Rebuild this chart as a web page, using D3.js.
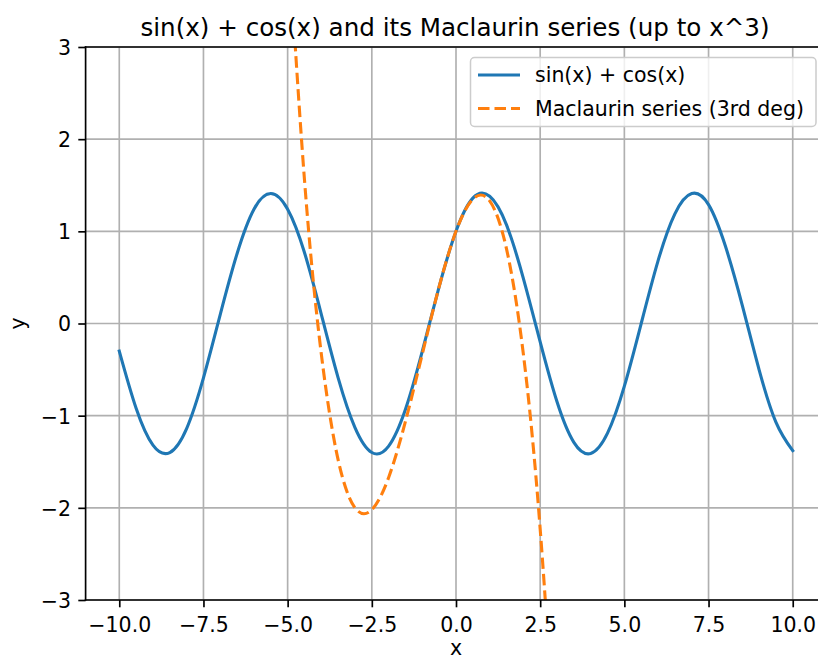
<!DOCTYPE html>
<html>
<head>
<meta charset="utf-8">
<script src="https://cdn.jsdelivr.net/npm/d3@7"></script>
<style>
  body { margin: 0; background: #fff; }
  svg text { font-family: "DejaVu Sans", sans-serif; fill: #000; }
</style>
</head>
<body>
<svg id="chart" width="818" height="660"></svg>
<script>
// values
var sumX = [-10, -9.5, -9, -8.5, -8, -7.5, -7, -6.5, -6, -5.5, -5, -4.5, -4, -3.5, -3, -2.5, -2, -1.5, -1, -0.5,
  0, 0.5, 1, 1.5, 2, 2.5, 3, 3.5, 4, 4.5, 5, 5.5, 6, 6.5, 7, 7.5, 8, 8.5, 9, 9.5, 10]
var sumY = [-0.30, -0.92, -1.32, -1.40, -1.14, -0.59, 0.10, 0.76, 1.24, 1.41, 1.24, 0.77, 0.10, -0.59, -1.13, -1.40, -1.33, -0.93, -0.30, 0.40,
  1.00, 1.36, 1.38, 1.07, 0.49, -0.20, -0.85, -1.29, -1.41, -1.19, -0.68, 0.00, 0.68, 1.19, 1.41, 1.29, 0.84, 0.20, -0.50, -1.07, -1.38]

var seriesX = [-5, -4.5, -4, -3.5, -3, -2.5, -2, -1.5, -1, -0.5, 0, 0.5, 1, 1.5, 2, 2.5, 3]
var seriesY = [4.33, 1.56, -0.33, -1.48, -2.00, -2.02, -1.67, -1.06, -0.33, 0.40, 1.00, 1.35, 1.33, 0.81, -0.33, -2.23, -5.00]

var xTicks = [-10, -7.5, -5, -2.5, 0, 2.5, 5, 7.5, 10]
var yTicks = [-3, -2, -1, 0, 1, 2, 3]
var legendLabels = ["sin(x) + cos(x)", "Maclaurin series (3rd deg)"]
var colors = ["#1f77b4", "#ff7f0e"]

var svg = d3.select("#chart")
var plotLeft = 85.6, plotRight = 826.4, plotTop = 47, plotBottom = 600

var x = d3.scaleLinear().domain([-11, 11]).range([plotLeft, plotRight])
var y = d3.scaleLinear().domain([-3, 3]).range([plotBottom, plotTop])

function fmt(v, digits) {
  return d3.format("." + digits + "f")(v).replace("-", "\u2212")
}

// grid
svg.append("g").selectAll("line").data(xTicks).join("line")
  .attr("x1", d => x(d)).attr("x2", d => x(d))
  .attr("y1", plotTop).attr("y2", plotBottom)
  .attr("stroke", "#b0b0b0").attr("stroke-width", 1.67)
svg.append("g").selectAll("line").data(yTicks).join("line")
  .attr("x1", plotLeft).attr("x2", plotRight)
  .attr("y1", d => y(d)).attr("y2", d => y(d))
  .attr("stroke", "#b0b0b0").attr("stroke-width", 1.67)

// curves
svg.append("clipPath").attr("id", "plotclip")
  .append("rect").attr("x", plotLeft).attr("y", plotTop)
  .attr("width", plotRight - plotLeft).attr("height", plotBottom - plotTop)

var line = d3.line()
  .x(d => x(d[0]))
  .y(d => y(d[1]))
  .curve(d3.curveNatural)

var plot = svg.append("g").attr("clip-path", "url(#plotclip)")
plot.append("path")
  .datum(d3.zip(sumX, sumY))
  .attr("d", line)
  .attr("fill", "none")
  .attr("stroke", colors[0])
  .attr("stroke-width", 3.1)
  .attr("stroke-linecap", "square")
plot.append("path")
  .datum(d3.zip(seriesX, seriesY))
  .attr("d", line)
  .attr("fill", "none")
  .attr("stroke", colors[1])
  .attr("stroke-width", 3.1)
  .attr("stroke-dasharray", "11.5,5")

// axes
var xAxis = d3.axisBottom(x).tickValues(xTicks).tickSize(7.3).tickPadding(7.3)
  .tickFormat(d => fmt(d, 1))
var gx = svg.append("g").attr("transform", "translate(0," + plotBottom + ")").call(xAxis)
gx.select(".domain").remove()
gx.selectAll(".tick line").attr("stroke", "#000").attr("stroke-width", 1.67)
gx.selectAll(".tick text").attr("font-size", 20.5).attr("dy", null).attr("y", 31.5).attr("fill", "#000")

var yAxis = d3.axisLeft(y).tickValues(yTicks).tickSize(7.3).tickPadding(7.3)
  .tickFormat(d => fmt(d, 0))
var gy = svg.append("g").attr("transform", "translate(" + plotLeft + ",0)").call(yAxis)
gy.select(".domain").remove()
gy.selectAll(".tick line").attr("stroke", "#000").attr("stroke-width", 1.67)
gy.selectAll(".tick text").attr("font-size", 20.5).attr("dy", "0.36em").attr("fill", "#000")

// spines (the right one falls just outside the picture)
var spines = [
  [plotLeft, plotTop, plotLeft, plotBottom],
  [plotLeft, plotTop, plotRight, plotTop],
  [plotLeft, plotBottom, plotRight, plotBottom],
  [plotRight, plotTop, plotRight, plotBottom]
]
svg.append("g").selectAll("line").data(spines).join("line")
  .attr("x1", d => d[0]).attr("y1", d => d[1])
  .attr("x2", d => d[2]).attr("y2", d => d[3])
  .attr("stroke", "#000").attr("stroke-width", 1.67).attr("stroke-linecap", "square")

// labels
svg.append("text")
  .attr("x", (plotLeft + plotRight) / 2 - 1).attr("y", 36)
  .attr("text-anchor", "middle").attr("font-size", 24.6)
  .text("sin(x) + cos(x) and its Maclaurin series (up to x^3)")
svg.append("text")
  .attr("x", (plotLeft + plotRight) / 2).attr("y", 655)
  .attr("text-anchor", "middle").attr("font-size", 20.5)
  .text("x")
svg.append("text")
  .attr("transform", "translate(25," + y(0) + ") rotate(-90)")
  .attr("text-anchor", "middle").attr("font-size", 20.5)
  .text("y")

// legend
var leg = svg.append("g")
leg.append("rect")
  .attr("x", 470.5).attr("y", 57.5).attr("width", 345.5).attr("height", 69)
  .attr("rx", 4).attr("ry", 4)
  .attr("fill", "#fff").attr("fill-opacity", 0.8)
  .attr("stroke", "#cccccc").attr("stroke-width", 1.5)

var rows = leg.selectAll("g.row").data(legendLabels).join("g")
  .attr("class", "row")
  .attr("transform", (d, i) => "translate(0," + (75 + i * 33.5) + ")")
rows.append("line")
  .attr("x1", 478).attr("x2", 520).attr("y1", 0).attr("y2", 0)
  .attr("stroke", (d, i) => colors[i]).attr("stroke-width", 3.1)
  .attr("stroke-dasharray", (d, i) => i == 1 ? "11.5,5" : null)
rows.append("text")
  .attr("x", 535).attr("y", 0).attr("dy", "0.36em")
  .attr("font-size", 20.5)
  .text(d => d)
</script>
</body>
</html>
